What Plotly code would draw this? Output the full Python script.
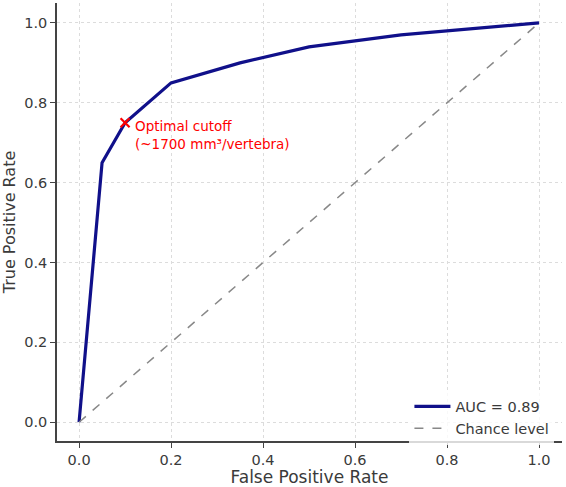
import plotly.graph_objects as go

fpr = [0.0, 0.05, 0.1, 0.2, 0.35, 0.5, 0.7, 1.0]
tpr = [0.0, 0.65, 0.75, 0.85, 0.90, 0.94, 0.97, 1.0]
chance = [0.0, 1.0]
cutoff_x = [0.1]
cutoff_y = [0.75]
ticks = [0.0, 0.2, 0.4, 0.6, 0.8, 1.0]
tick_text = ["0.0", "0.2", "0.4", "0.6", "0.8", "1.0"]

font = "DejaVu Sans"
txt = "#3a3a3a"

fig = go.Figure()
fig.add_trace(go.Scatter(x=fpr, y=tpr, mode="lines", name="AUC = 0.89",
                         line=dict(color="#10108a", width=3.2)))
fig.add_trace(go.Scatter(x=chance, y=chance, mode="lines", name="Chance level",
                         line=dict(color="#888888", width=1.5, dash="dash")))
fig.add_trace(go.Scatter(x=cutoff_x, y=cutoff_y, mode="markers", showlegend=False,
                         marker=dict(symbol="x-thin", size=9, color="red",
                                     line=dict(color="red", width=2.2))))
fig.add_annotation(x=cutoff_x[0], y=cutoff_y[0], xref="x", yref="y",
                   text="Optimal cutoff<br>(~1700 mm³/vertebra)", showarrow=False,
                   xanchor="left", yanchor="top", align="left", xshift=8, yshift=7,
                   font=dict(color="red", size=13.5, family=font))

axis_common = dict(
    tickvals=ticks, ticktext=tick_text, showgrid=True,
    gridcolor="#dcdcdc", griddash="dot", gridwidth=1,
    zeroline=False, showline=True, linecolor="#444444", linewidth=1.5,
    ticks="outside", ticklen=5, tickcolor="#444444", tickwidth=1.2,
    tickfont=dict(size=14.5, color=txt, family=font),
)
fig.update_xaxes(range=[-0.048, 1.05],
                 title=dict(text="False Positive Rate", font=dict(size=17, color=txt, family=font), standoff=4),
                 **axis_common)
fig.update_yaxes(range=[-0.047, 1.05],
                 title=dict(text="True Positive Rate", font=dict(size=16, color=txt, family=font), standoff=6),
                 **axis_common)

fig.update_layout(
    width=566, height=487,
    margin=dict(l=57, r=4, t=3, b=41),
    plot_bgcolor="white", paper_bgcolor="white",
    font=dict(family=font, color=txt),
    legend=dict(x=0.985, y=-0.008, xanchor="right", yanchor="bottom",
                bgcolor="rgba(255,255,255,0.8)", font=dict(size=14.5, color=txt, family=font),
                itemwidth=36, tracegroupgap=0),
)

fig.write_html("out.html")
